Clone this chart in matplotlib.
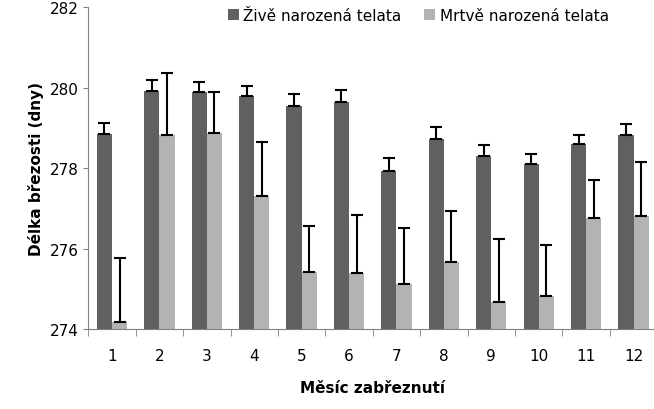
import numpy as np
import matplotlib.pyplot as plt

months = [str(i) for i in range(1, 13)]
live = [278.85, 279.92, 279.89, 279.79, 279.55, 279.64, 277.93, 278.72, 278.31, 278.10, 278.60, 278.82]
live_err = [0.26, 0.26, 0.26, 0.26, 0.30, 0.29, 0.31, 0.29, 0.27, 0.26, 0.23, 0.28]
dead = [274.18, 278.83, 278.88, 277.31, 275.42, 275.39, 275.13, 275.66, 274.67, 274.83, 276.77, 276.82]
dead_err = [1.58, 1.53, 1.02, 1.33, 1.15, 1.45, 1.39, 1.28, 1.56, 1.27, 0.94, 1.33]

fig = plt.figure(figsize=(6.54, 4.10), dpi=100)
ax = fig.add_axes([0.135, 0.195, 0.87, 0.785])

x = np.arange(len(months))
w = 0.32
ax.bar(x - w / 2, live, w, bottom=0, color="#606060", label="Živě narozená telata")
ax.bar(x + w / 2, dead, w, color="#b3b3b3", label="Mrtvě narozená telata")
ax.errorbar(x - w / 2, live, yerr=[np.zeros(12), live_err], fmt="none", ecolor="black", elinewidth=1.5, capsize=4, capthick=1.5)
ax.errorbar(x + w / 2, dead, yerr=[np.zeros(12), dead_err], fmt="none", ecolor="black", elinewidth=1.5, capsize=4, capthick=1.5)

ax.set_ylim(274, 282)
ax.set_yticks([274, 276, 278, 280, 282])
ax.set_xlim(-0.5, 11.5)
ax.set_xticks(x)
ax.set_xticklabels(months)
ax.set_xticks(np.arange(-0.5, 12, 1), minor=True)
ax.tick_params(axis="x", which="major", length=0, pad=14, labelsize=11)
ax.tick_params(axis="x", which="minor", length=5, color="#808080")
ax.tick_params(axis="y", labelsize=11, color="#808080")
for s in ["top", "right"]:
    ax.spines[s].set_visible(False)
ax.spines["left"].set_color("#808080")
ax.spines["bottom"].set_color("#808080")

ax.set_ylabel("Délka březosti (dny)", fontsize=11, fontweight="bold")
ax.set_xlabel("Měsíc zabřeznutí", fontsize=11, fontweight="bold", labelpad=12)
ax.legend(loc="upper center", bbox_to_anchor=(0.58, 1.04), ncol=2, frameon=False,
          fontsize=11, handlelength=0.7, handleheight=0.7, columnspacing=1.5, handletextpad=0.3)

fig.savefig("out.png", dpi=100)
